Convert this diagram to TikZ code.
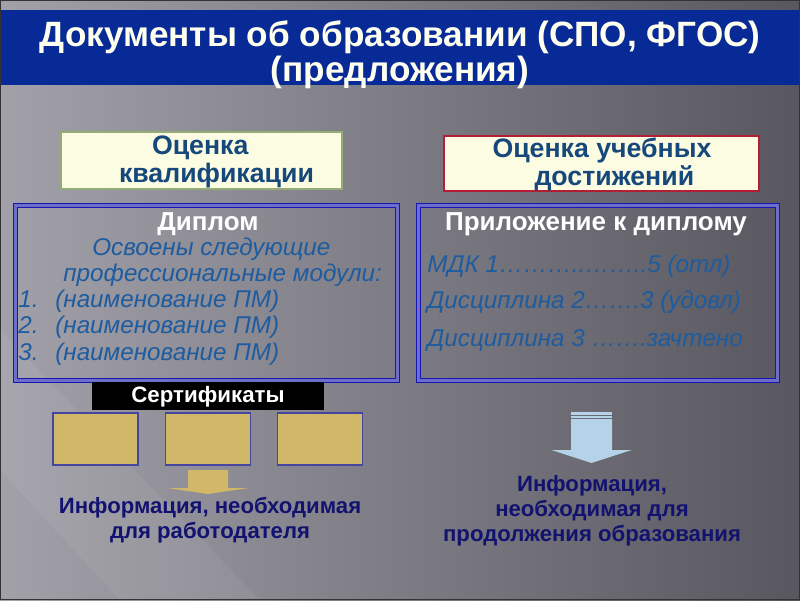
\documentclass[tikz,border=0pt]{standalone}
\usepackage{fontspec}
\setmainfont{Liberation Sans}
\usetikzlibrary{positioning, calc}
\definecolor{titleblue}{RGB}{8,42,150}
\definecolor{titletext}{RGB}{255,255,240}
\definecolor{bglight}{RGB}{162,160,168}
\definecolor{bgmid}{RGB}{122,120,128}
\definecolor{bgdark}{RGB}{88,86,94}
\definecolor{headtext}{RGB}{22,72,124}
\definecolor{itblue}{RGB}{30,92,160}
\definecolor{infonavy}{RGB}{18,18,112}
\definecolor{frameblue}{RGB}{22,22,180}
\definecolor{framelight}{RGB}{110,110,200}
\definecolor{certfill}{RGB}{208,184,104}
\definecolor{certline}{RGB}{70,70,160}
\definecolor{arrowblue}{RGB}{180,210,232}
\definecolor{creamfill}{RGB}{252,252,226}
\definecolor{greenframe}{RGB}{150,172,120}
\definecolor{redframe}{RGB}{178,30,52}
\tikzset{
  px/.style={x=0.02cm, y=-0.02cm},
  headbox/.style={draw, line width=1.4pt, fill=creamfill},
  headlabel/.style={text=headtext, font=\fontsize{15.2}{16}\selectfont\bfseries, align=left, inner sep=0pt},
  docframe/.style={draw=frameblue, double=framelight, double distance=1.2pt, line width=0.9pt},
  doctitle/.style={text=white, font=\fontsize{14.8}{16}\selectfont\bfseries, inner sep=0pt},
  itline/.style={text=itblue, font=\fontsize{13.8}{14.6}\selectfont\itshape, inner sep=0pt},
  certbox/.style={draw=certline, fill=certfill, line width=0.8pt, minimum width=1.7cm, minimum height=1.04cm},
  infotext/.style={text=infonavy, font=\fontsize{12.6}{14.2}\selectfont\bfseries, align=center, inner sep=0pt}
}
\newcommand{\blockdown}[7]{%
  \begin{scope}[shift={(#1,#2)}]
    \fill[#7] (-#3/2,0) -- (#3/2,0) -- (#3/2,#4) -- (#5/2,#4) -- (0,#4+#6)
      -- (-#5/2,#4) -- (-#3/2,#4) -- cycle;
  \end{scope}
}

\begin{document}
\begin{tikzpicture}[px]
        \useasboundingbox (0,0) rectangle (800,600);
        % Background
        \shade[left color=bglight, middle color=bgmid, right color=bgdark] (0,0) rectangle (800,600);
        \fill[white, opacity=0.06] (0,330) -- (260,600) -- (120,600) -- (0,470) -- cycle;
        \fill[titleblue] (0,10) rectangle (800,85);
        \node[text=titletext, font=\fontsize{20}{17.4}\selectfont\bfseries, align=center] (title) at (400,55)
            {Документы об образовании (СПО, ФГОС)\\(предложения)};

        % Headings
        \node[headbox, draw=greenframe, minimum width=5.62cm, minimum height=1.14cm] (qualif) at (201.5,160.5) {};
        \node[headlabel] (qualiftxt) at (216.5,162) {\hspace*{0.66cm}Оценка\\квалификации};
        \node[headbox, draw=redframe, minimum width=6.3cm, minimum height=1.1cm] (achieve) at (601.5,163.5) {};
        \node[headlabel] (achievetxt) at (602,164) {Оценка учебных\\\hspace*{0.84cm}достижений};

        % Documents
        \node[docframe, minimum width=7.64cm, minimum height=3.5cm] (diploma) at (206.5,293) {};
        \node[doctitle] (diplomatxt) at (208,224) {Диплом};
        \node[itline, align=left, anchor=north west] (modules) at (63,238) {\hspace*{0.58cm}Освоены следующие\\профессиональные модули:};
        \foreach \i/\y in {1/307,2/333,3/360} {
          \node[itline, anchor=base west] (num\i) at (18,\y) {\i.};
          \node[itline, anchor=base west] (pm\i) at (55,\y) {(наименование ПМ)};
        }
        \node[docframe, minimum width=7.18cm, minimum height=3.5cm] (suppl) at (598,293) {};
        \node[doctitle] (suppltxt) at (596,224) {Приложение к диплому};
        \node[itline, anchor=west] (mdk) at (427,266) {МДК 1………..……..5 (отл)};
        \node[itline, anchor=west] (disc2) at (427,302) {Дисциплина 2…….3 (удовл)};
        \node[itline, anchor=west] (disc3) at (427,340) {Дисциплина 3 …….зачтено};

        % Certificates
        \node[fill=black, minimum width=4.64cm, minimum height=0.56cm, inner sep=0pt] (certbar) at (208,396) {};
        \node[text=white, font=\fontsize{12.7}{14}\selectfont\bfseries, inner sep=0pt] (certtxt) at (208,397) {Сертификаты};
        \foreach \i/\x in {1/95.5,2/208,3/320} {
          \node[certbox] (cert\i) at (\x,439) {};
        }

        % Arrows
        \blockdown{208}{470}{40}{18}{81}{6}{certfill}
        \blockdown{591.5}{419}{41}{31}{80}{13}{arrowblue}
        \fill[arrowblue] (571,412) rectangle (612,414.5);
        \fill[arrowblue] (571,416) rectangle (612,417.6);

        % Results
        \node[infotext] (employer) at (210,520) {Информация, необходимая\\для работодателя};
        \node[infotext] (study) at (592,511) {Информация,\\необходимая для\\продолжения образования};

        \draw[black!80, line width=1pt] (0.5,0.5) rectangle (799.5,599.5);
\end{tikzpicture}
\end{document}
